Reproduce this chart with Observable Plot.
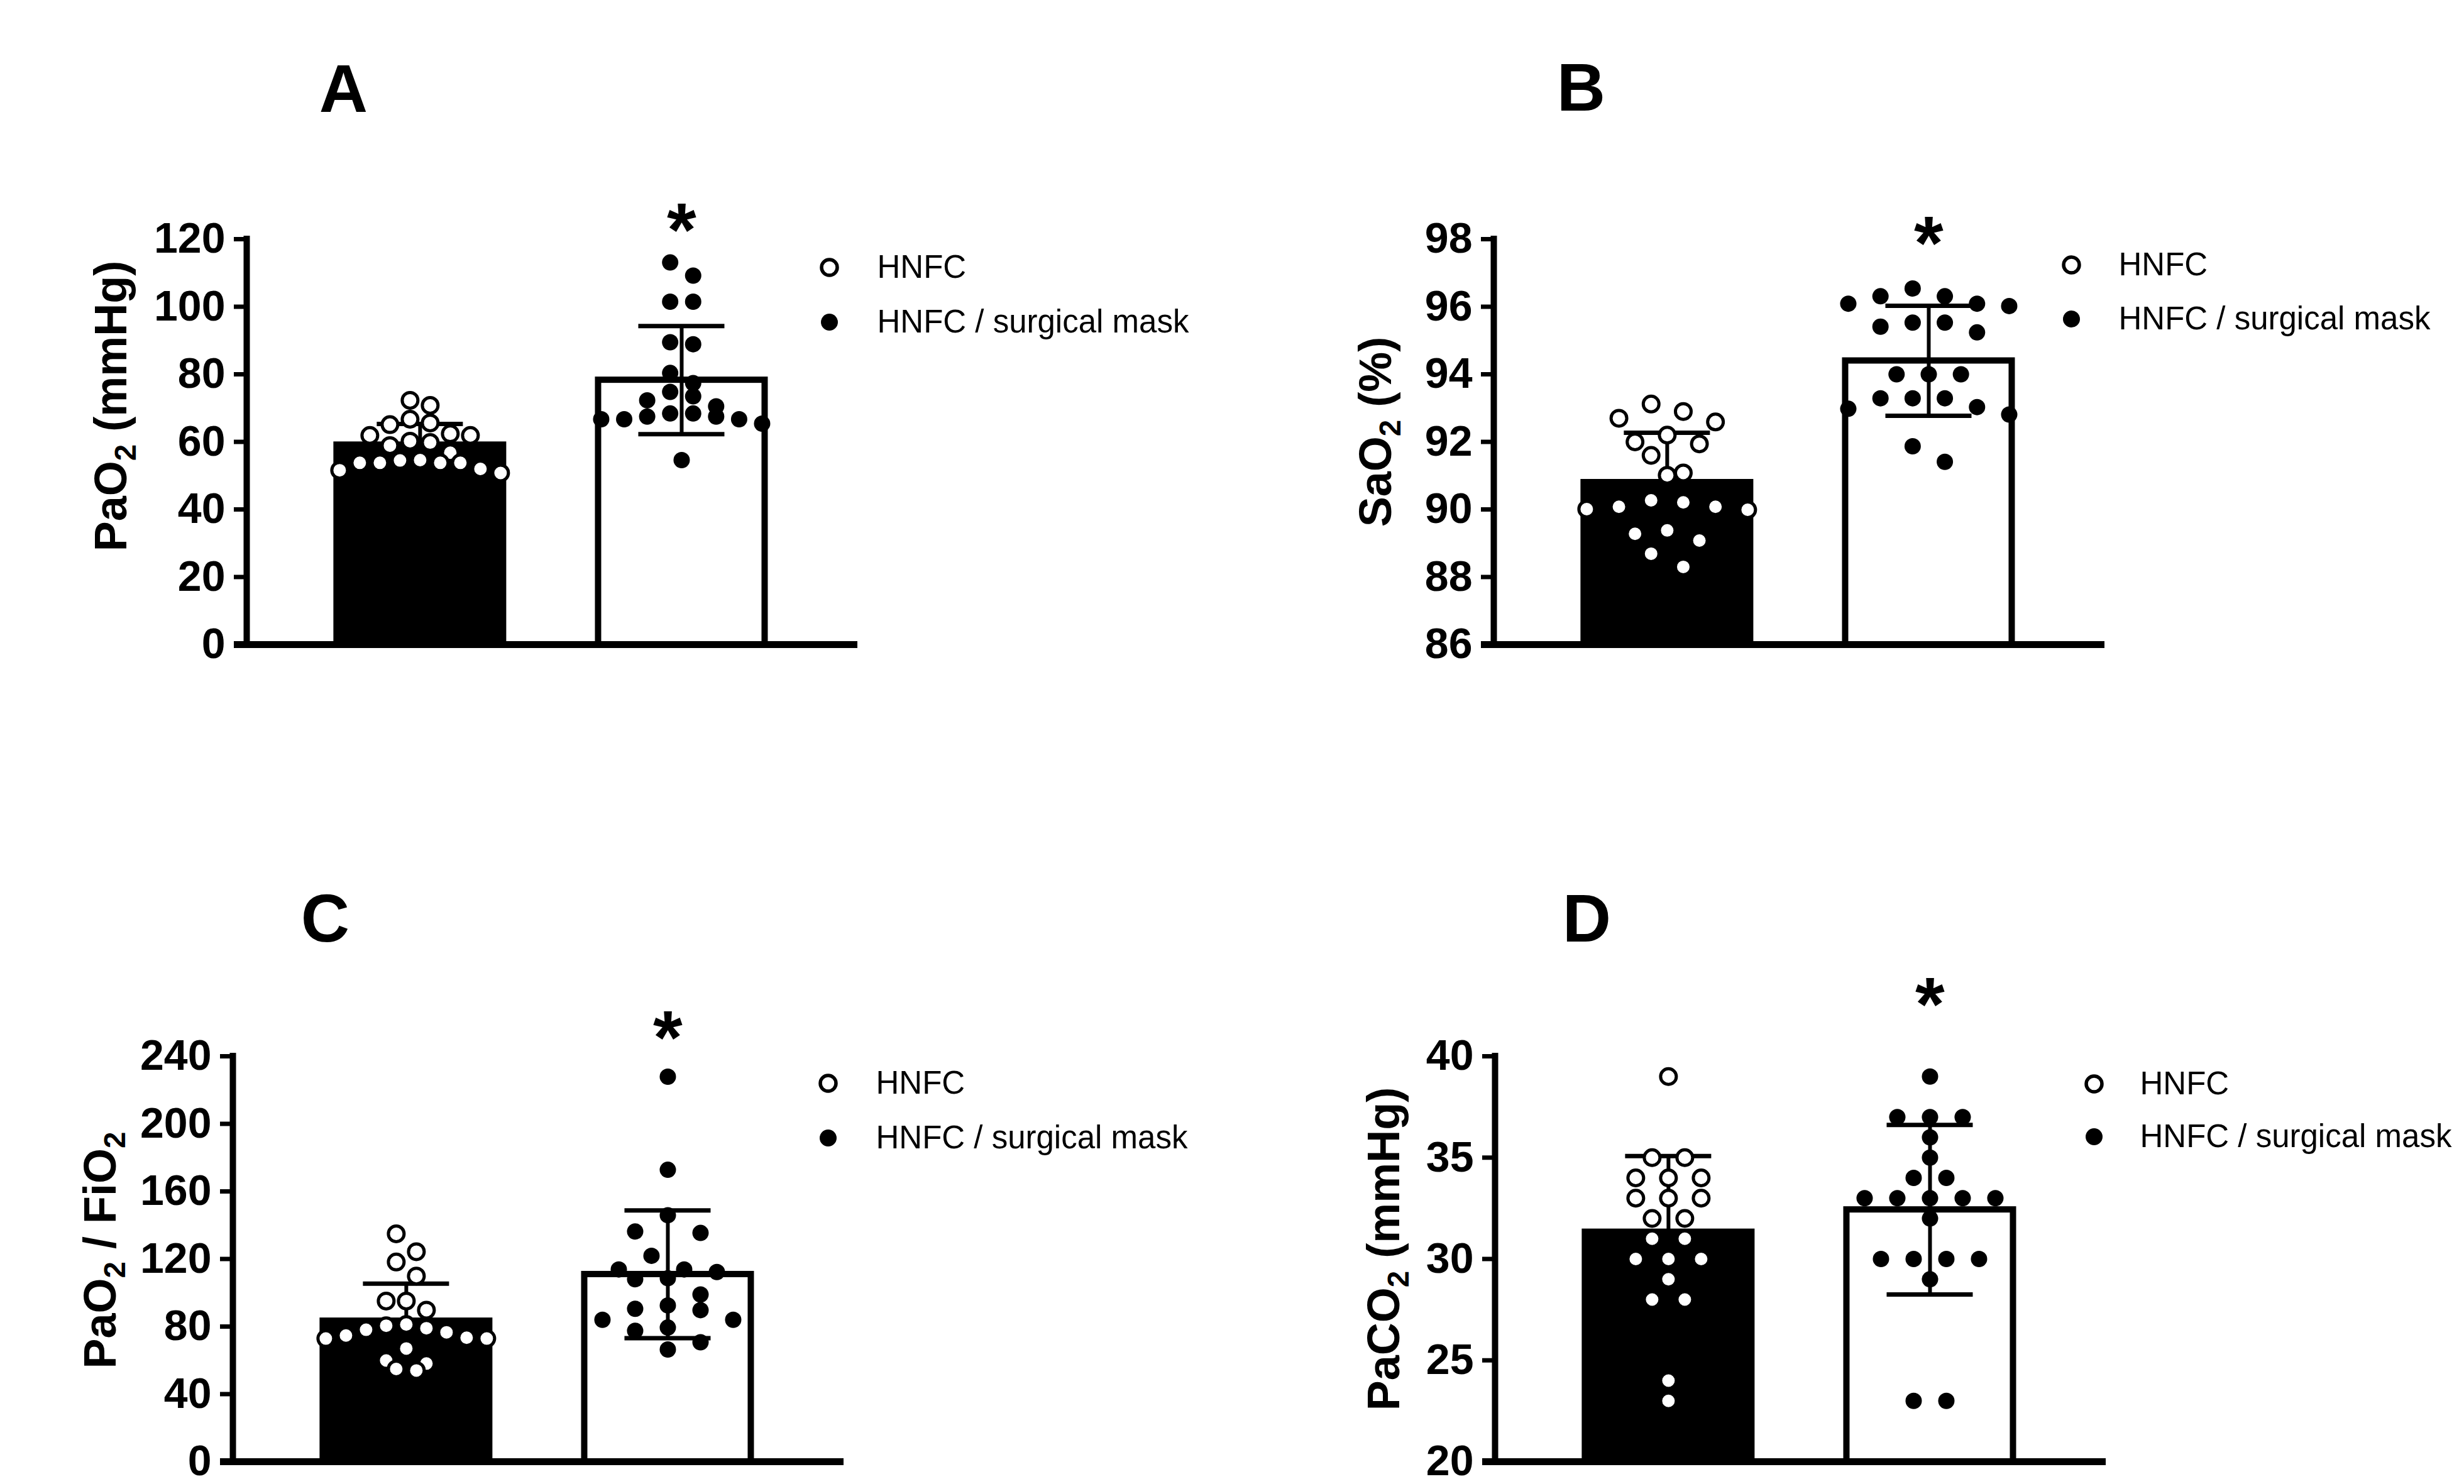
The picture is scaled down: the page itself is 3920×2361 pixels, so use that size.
<!DOCTYPE html>
<html>
<head>
<meta charset="utf-8">
<script src="https://cdn.jsdelivr.net/npm/d3@7"></script>
<script src="https://cdn.jsdelivr.net/npm/@observablehq/plot@0.6"></script>
<style>
  html, body { margin: 0; padding: 0; background: #fff; }
  #page { position: relative; width: 3920px; height: 2361px; background: #fff; overflow: hidden; }
  .panel { position: absolute; }
</style>
</head>
<body>
<div id="page"></div>
<script>
// ---------------- data ----------------
const groups = ["HNFC", "HNFC / surgical mask"];
const panelLetters = ["A", "B", "C", "D"];
const yLabels = ["PaO\u2082 (mmHg)", "SaO\u2082 (%)", "PaO\u2082 / FiO\u2082", "PaCO\u2082 (mmHg)"];
const significance = ["*", "*", "*", "*"];

const ticksA = [0, 20, 40, 60, 80, 100, 120];
const ticksB = [86, 88, 90, 92, 94, 96, 98];
const ticksC = [0, 40, 80, 120, 160, 200, 240];
const ticksD = [20, 25, 30, 35, 40];

const paO2_HNFC = [72.3, 70.8, 66.7, 65.6, 65.1, 62.4, 61.9, 61.9, 60.2, 59.8, 58.9, 56.8, 54.6, 54.5, 53.8, 53.8, 53.8, 53.8, 52.0, 51.6, 50.8];
const paO2_mask = [113.1, 109.2, 101.5, 101.5, 89.5, 88.9, 80.4, 77.4, 74.8, 73.5, 72.3, 70.5, 68.4, 68.4, 67.5, 67.5, 66.7, 66.7, 66.7, 65.4, 54.6];
const paO2_mean = [59.1, 78.3];
const paO2_sd = [6.2, 16.0];

const saO2_HNFC = [93.12, 92.90, 92.70, 92.59, 92.20, 92.00, 91.94, 91.60, 91.08, 91.01, 90.27, 90.21, 90.08, 90.08, 90.01, 89.99, 89.38, 89.28, 89.08, 88.69, 88.30];
const saO2_mask = [96.54, 96.31, 96.31, 96.09, 96.09, 96.02, 95.53, 95.53, 95.41, 95.24, 94.0, 94.0, 94.0, 93.29, 93.29, 93.29, 93.03, 92.98, 92.81, 91.87, 91.41];
const saO2_mean = [90.8, 94.4];
const saO2_sd = [1.47, 1.63];

const ratio_HNFC = [134.9, 124.3, 118.2, 109.9, 95.1, 95.1, 89.7, 81.2, 80.5, 79.0, 78.1, 76.6, 74.7, 73.4, 72.9, 72.9, 67.0, 59.9, 58.1, 54.9, 54.0];
const ratio_mask = [227.9, 172.8, 145.9, 136.3, 135.4, 121.9, 113.8, 113.8, 112.3, 108.6, 108.0, 99.0, 92.5, 90.5, 89.7, 84.0, 84.0, 79.4, 77.5, 70.7, 66.4];
const ratio_mean = [83.3, 110.9];
const ratio_sd = [22.1, 37.8];

const paCO2_HNFC = [39, 35, 35, 34, 34, 34, 33, 33, 33, 32, 32, 31, 31, 30, 30, 30, 29, 28, 28, 24, 23];
const paCO2_mask = [39, 37, 37, 37, 36, 35, 34, 34, 33, 33, 33, 33, 33, 32, 30, 30, 30, 30, 29, 23, 23];
const paCO2_mean = [31.33, 32.43];
const paCO2_sd = [3.75, 4.18];

// ---------------- layout ----------------
const FRAME_W = 972, FRAME_H = 645;
const X_DOMAIN = [0.337, 2.673];
const PX_X = FRAME_W / (X_DOMAIN[1] - X_DOMAIN[0]);
const BAR_HW = 132.5 / PX_X;
const CAP_HW = 68.5 / PX_X;
const FONT = "'Liberation Sans', Arial, Helvetica, sans-serif";

const layouts = [
  {left: 0, top: 0, width: 1960, height: 1180, ml: 392, mt: 380,
   titleDx: 154, titleDy: -203, labDx: -192, labDy: -57, starDy: -34,
   legDot: -45, legText: 31, legRow: [45, 132]},
  {left: 1960, top: 0, width: 1960, height: 1180, ml: 416, mt: 380,
   titleDx: 139, titleDy: -205, labDx: -164, labDy: -16, starDy: -13,
   legDot: -53, legText: 22, legRow: [41, 127]},
  {left: 0, top: 1180, width: 1960, height: 1181, ml: 370, mt: 500,
   titleDx: 147, titleDy: -183, labDx: -187, labDy: -14, starDy: -49,
   legDot: -25, legText: 51, legRow: [43, 130]},
  {left: 1960, top: 1180, width: 1960, height: 1181, ml: 418, mt: 500,
   titleDx: 146, titleDy: -183, labDx: -153, labDy: -16, starDy: -102,
   legDot: -19, legText: 54, legRow: [44, 128]}
];

// GraphPad-like scatter spreading: cluster values into rows, spread rows symmetrically
function spread(values, pxPerUnit) {
  const ROW_H = 30;
  const order = d3.range(values.length).sort((a, b) => values[b] - values[a]);
  const rows = [];
  let cur = null;
  for (const i of order) {
    if (cur && (values[cur[0]] - values[i]) * pxPerUnit < ROW_H) cur.push(i);
    else { cur = [i]; rows.push(cur); }
  }
  const maxRow = d3.max(rows, r => r.length);
  const step = maxRow > 1 ? Math.min(52, 256 / (maxRow - 1)) : 0;
  const off = new Array(values.length);
  for (const r of rows) {
    const n = r.length;
    const slots = d3.range(n).map(k => (k - (n - 1) / 2) * step)
      .sort((a, b) => Math.abs(a) - Math.abs(b) || a - b);
    r.forEach((i, j) => off[i] = slots[j]);
  }
  return off;
}

// turn the unicode subscript two into a real lowered, smaller "2"
function subscriptify(svg) {
  d3.select(svg).selectAll("text").each(function () {
    const t = this.textContent;
    if (!t.includes("\u2082")) return;
    const fs = parseFloat(getComputedStyle(this).fontSize) || 72;
    const sel = d3.select(this);
    sel.text(null);
    const parts = t.split("\u2082");
    parts.forEach((p, i) => {
      if (i > 0) {
        sel.append("tspan").attr("font-size", fs * 0.66).attr("dy", fs * 0.22).text("2");
        sel.append("tspan").attr("dy", -fs * 0.22).text(p);
      } else {
        sel.append("tspan").text(p);
      }
    });
  });
  return svg;
}

function panel(k, v0, v1, mean, sd, ticks) {
  const L = layouts[k];
  const domain = [ticks[0], ticks[ticks.length - 1]];
  const ppu = FRAME_H / (domain[1] - domain[0]);
  const o0 = spread(v0, ppu), o1 = spread(v1, ppu);
  const dots0 = v0.map((v, i) => ({x: 1 + o0[i] / PX_X, y: v}));
  const dots1 = v1.map((v, i) => ({x: 2 + o1[i] / PX_X, y: v}));
  const bars = groups.map((g, i) => ({group: g, pos: i + 1, mean: mean[i], sd: sd[i]}));
  const mr = L.width - L.ml - FRAME_W;
  const mb = L.height - L.mt - FRAME_H;
  return Plot.plot({
    width: L.width, height: L.height,
    marginLeft: L.ml, marginRight: mr, marginTop: L.mt, marginBottom: mb,
    style: {fontFamily: FONT, fontWeight: "bold", background: "white", overflow: "visible", color: "black"},
    x: {domain: X_DOMAIN, axis: null},
    y: {domain},
    marks: [
      Plot.rect(bars.filter(d => d.pos === 1), {x1: d => d.pos - BAR_HW, x2: d => d.pos + BAR_HW, y1: domain[0], y2: "mean", fill: "black", stroke: "black", strokeWidth: 10}),
      Plot.rect(bars.filter(d => d.pos === 2), {x1: d => d.pos - BAR_HW, x2: d => d.pos + BAR_HW, y1: domain[0], y2: "mean", fill: "white", stroke: "black", strokeWidth: 10}),
      Plot.ruleX(bars, {x: "pos", y1: d => d.mean - d.sd, y2: d => d.mean + d.sd, stroke: "black", strokeWidth: 6}),
      Plot.ruleY(bars, {y: d => d.mean + d.sd, x1: d => d.pos - CAP_HW, x2: d => d.pos + CAP_HW, stroke: "black", strokeWidth: 7}),
      Plot.ruleY(bars, {y: d => d.mean - d.sd, x1: d => d.pos - CAP_HW, x2: d => d.pos + CAP_HW, stroke: "black", strokeWidth: 7}),
      Plot.dot(dots0, {x: "x", y: "y", r: 12.5, fill: "white", stroke: "black", strokeWidth: 5}),
      Plot.dot(dots1, {x: "x", y: "y", r: 13, fill: "black", stroke: "none"}),
      Plot.ruleY([domain[0]], {stroke: "black", strokeWidth: 11, insetLeft: -20}),
      Plot.ruleX([X_DOMAIN[0]], {y1: domain[0], y2: domain[1], stroke: "black", strokeWidth: 10, strokeLinecap: "square"}),
      Plot.axisY({ticks, tickSize: 20, tickPadding: 14, stroke: "black", strokeWidth: 7, fill: "black", fontSize: 68, fontWeight: "bold", fontFamily: FONT, label: null}),
      // y-axis title
      Plot.text([yLabels[k]], {text: d => d, frameAnchor: "left", rotate: -90, textAnchor: "middle", lineAnchor: "bottom", dx: L.labDx, dy: L.labDy, fontSize: 72, fontWeight: "bold", fill: "black"}),
      // panel letter
      Plot.text([panelLetters[k]], {text: d => d, frameAnchor: "top-left", textAnchor: "middle", lineAnchor: "bottom", dx: L.titleDx, dy: L.titleDy, fontSize: 107, fontWeight: "bold", fill: "black"}),
      // significance asterisk over the second bar
      Plot.text([{pos: 2, s: significance[k]}], {x: "pos", text: "s", frameAnchor: "top", textAnchor: "middle", lineAnchor: "bottom", dy: L.starDy + 60, fontSize: 120, fontWeight: "bold", fill: "black"}),
      // legend
      Plot.dot([groups[0]], {frameAnchor: "top-right", dx: L.legDot, dy: L.legRow[0], r: 12.5, fill: "white", stroke: "black", strokeWidth: 5.5}),
      Plot.dot([groups[1]], {frameAnchor: "top-right", dx: L.legDot, dy: L.legRow[1], r: 13.5, fill: "black", stroke: "none"}),
      Plot.text([groups[0]], {text: d => d, frameAnchor: "top-right", textAnchor: "start", lineAnchor: "middle", dx: L.legText, dy: L.legRow[0], fontSize: 51, fontWeight: "normal", fill: "black"}),
      Plot.text([groups[1]], {text: d => d, frameAnchor: "top-right", textAnchor: "start", lineAnchor: "middle", dx: L.legText, dy: L.legRow[1], fontSize: 51, fontWeight: "normal", fill: "black"})
    ]
  });
}

const page = document.getElementById("page");
const specs = [
  [paO2_HNFC, paO2_mask, paO2_mean, paO2_sd, ticksA],
  [saO2_HNFC, saO2_mask, saO2_mean, saO2_sd, ticksB],
  [ratio_HNFC, ratio_mask, ratio_mean, ratio_sd, ticksC],
  [paCO2_HNFC, paCO2_mask, paCO2_mean, paCO2_sd, ticksD]
];
specs.forEach((s, k) => {
  const L = layouts[k];
  const div = document.createElement("div");
  div.className = "panel";
  div.style.left = L.left + "px";
  div.style.top = L.top + "px";
  div.style.width = L.width + "px";
  div.style.height = L.height + "px";
  const svg = panel(k, ...s);
  div.appendChild(svg);
  page.appendChild(div);
  subscriptify(svg);
});
</script>
</body>
</html>
